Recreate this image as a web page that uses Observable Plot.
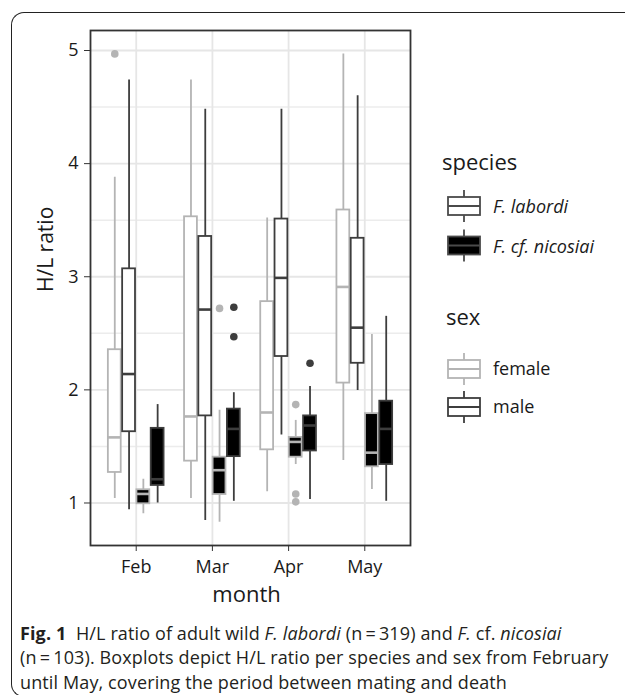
<!DOCTYPE html>
<html><head><meta charset="utf-8">
<script src="https://cdn.jsdelivr.net/npm/d3@7"></script>
<script src="https://cdn.jsdelivr.net/npm/@observablehq/plot@0.6"></script>
<style>
body{margin:0;background:#fff;font-family:"Open Sans",sans-serif;}
#wrap{position:relative;width:625px;height:695px;overflow:hidden;}
#card{position:absolute;left:11px;top:12px;width:700px;height:683px;border-left:1.5px solid #222;border-top:1.5px solid #222;border-bottom:1.5px solid #222;border-top-left-radius:13px;border-bottom-left-radius:13px;}
#chart{position:absolute;left:0;top:0;}
#legend{position:absolute;left:0;top:0;}
#caption{position:absolute;left:20px;top:621px;font-size:18px;letter-spacing:0.12px;line-height:24.3px;color:#231f20;white-space:nowrap;}
</style></head><body>
<div id="wrap"><div id="card"></div><div id="chart"></div><div id="legend"></div>
<div id="caption"><b>Fig. 1</b>&nbsp; H/L ratio of adult wild <i>F. labordi</i> (n&#8201;=&#8201;319) and <i>F.</i> cf. <i>nicosiai</i><br>(n&#8201;=&#8201;103). Boxplots depict H/L ratio per species and sex from February<br>until May, covering the period between mating and death</div>
</div>
<script>
const months = ["Feb", "Mar", "Apr", "May"];
const species = ["F. labordi", "F. cf. nicosiai"];
const sexes = ["female", "male"];
const yTicks = [1, 2, 3, 4, 5];
const yMinor = [1.5, 2.5, 3.5, 4.5];
// [lower whisker, Q1, median, Q3, upper whisker] per month (Feb..May)
const labordiFemale = [[1.04, 1.27, 1.58, 2.355, 3.88], [1.04, 1.37, 1.765, 3.53, 4.74], [1.10, 1.47, 1.80, 2.78, 3.52], [1.375, 2.06, 2.91, 3.59, 4.97]];
const labordiMale = [[0.94, 1.63, 2.14, 3.07, 4.74], [0.845, 1.77, 2.71, 3.356, 4.48], [1.60, 2.295, 2.99, 3.51, 4.48], [1.995, 2.235, 2.55, 3.34, 4.60]];
const nicosiaiFemale = [[0.905, 0.993, 1.08, 1.117, 1.21], [0.83, 1.075, 1.29, 1.405, 1.82], [1.34, 1.405, 1.54, 1.58, 1.73], [1.12, 1.32, 1.445, 1.79, 2.49]];
const nicosiaiMale = [[1.0, 1.155, 1.21, 1.66, 1.87], [1.015, 1.41, 1.655, 1.83, 1.975], [1.03, 1.46, 1.685, 1.77, 2.03], [1.015, 1.34, 1.655, 1.90, 2.65]];
// outliers per month
const labordiFemaleOut = [[4.97], [], [], []];
const labordiMaleOut = [[], [], [], []];
const nicosiaiFemaleOut = [[], [2.72], [1.87, 1.08, 1.01], []];
const nicosiaiMaleOut = [[], [2.73, 2.47], [2.235], []];

const sexColor = {female: "#b4b4b4", male: "#3d3d3d"};
const speciesFill = {"F. labordi": "#ffffff", "F. cf. nicosiai": "#000000"};

const groups = [
  {species: species[0], sex: sexes[0], stats: labordiFemale, out: labordiFemaleOut},
  {species: species[0], sex: sexes[1], stats: labordiMale, out: labordiMaleOut},
  {species: species[1], sex: sexes[0], stats: nicosiaiFemale, out: nicosiaiFemaleOut},
  {species: species[1], sex: sexes[1], stats: nicosiaiMale, out: nicosiaiMaleOut}
];
const boxes = groups.flatMap((gr, g) => months.map((m, i) => ({
  month: m, mi: i + 1, g, species: gr.species, sex: gr.sex,
  low: gr.stats[i][0], q1: gr.stats[i][1], med: gr.stats[i][2], q3: gr.stats[i][3], high: gr.stats[i][4]
})));
const outliers = groups.flatMap((gr, g) => gr.out.flatMap((vals, i) => vals.map(v => ({mi: i + 1, g, sex: gr.sex, species: gr.species, value: v}))));

const slot = 0.75 / 4, bw = slot * 0.9;
const xc = d => d.mi + (d.g - 1.5) * slot;
const stroke = d => sexColor[d.sex];
const fill = d => speciesFill[d.species];

const chart = Plot.plot({
  width: 625, height: 620,
  marginTop: 30, marginBottom: 75, marginLeft: 90, marginRight: 215,
  x: {domain: [0.4, 4.6]},
  y: {domain: [0.6243, 5.1768]},
  color: {type: "identity"},
  style: {fontFamily: "Open Sans", fontSize: "17px", color: "#1a1a1a", background: "transparent"},
  marks: [
    Plot.ruleY(yMinor, {stroke: "#ececec", strokeWidth: 1.4}),
    Plot.ruleY(yTicks, {stroke: "#e6e6e6", strokeWidth: 1.8}),
    Plot.ruleX([1, 2, 3, 4], {stroke: "#e6e6e6", strokeWidth: 1.8}),
    Plot.ruleX(boxes, {x: xc, y1: "low", y2: "high", stroke, strokeWidth: 1.8}),
    Plot.rect(boxes, {x1: d => xc(d) - bw / 2, x2: d => xc(d) + bw / 2, y1: "q1", y2: "q3", fill, stroke, strokeWidth: 1.8}),
    Plot.ruleY(boxes, {x1: d => xc(d) - bw / 2, x2: d => xc(d) + bw / 2, y: "med", stroke, strokeWidth: 2.6}),
    Plot.dot(outliers, {x: xc, y: "value", r: 3.8, fill: stroke, stroke: "none"}),
    Plot.frame({stroke: "#333", strokeWidth: 1.8}),
    Plot.axisY(yTicks, {tickSize: 6, tickPadding: 6, fontSize: 18, label: null, stroke: "#333", fill: "#1a1a1a", tickFormat: d => String(d)}),
    Plot.axisX([1, 2, 3, 4], {tickSize: 6, tickPadding: 9, fontSize: 18, label: null, stroke: "#333", fill: "#1a1a1a", tickFormat: i => months[i - 1]}),
    Plot.text(["month"], {text: d => d, frameAnchor: "bottom", lineAnchor: "bottom", dy: 56, dx: -4, fontSize: 22, fill: "#1a1a1a"}),
    Plot.text(["H/L ratio"], {text: d => d, frameAnchor: "left", rotate: -90, lineAnchor: "middle", dx: -44, dy: 4, fontSize: 21, fill: "#1a1a1a"})
  ]
});
document.getElementById("chart").appendChild(chart);

// legend
const svg = d3.select("#legend").append("svg").attr("width", 625).attr("height", 620)
  .style("font-family", "Open Sans");
function key(cy, fillC, strokeC, medC) {
  const g = svg.append("g");
  g.append("line").attr("x1", 464).attr("x2", 464).attr("y1", cy - 16).attr("y2", cy + 16).attr("stroke", strokeC).attr("stroke-width", 1.8);
  g.append("rect").attr("x", 448).attr("y", cy - 9).attr("width", 32).attr("height", 18).attr("fill", fillC).attr("stroke", strokeC).attr("stroke-width", 1.8);
  g.append("line").attr("x1", 448).attr("x2", 480).attr("y1", cy).attr("y2", cy).attr("stroke", medC).attr("stroke-width", 2);
}
svg.append("text").attr("x", 442).attr("y", 170).attr("font-size", 22).attr("fill", "#1a1a1a").text("species");
const spY = [206, 245.5];
species.forEach((s, i) => {
  key(spY[i], speciesFill[s], "#4a4a4a", "#4a4a4a");
  svg.append("text").attr("x", 493).attr("y", spY[i] + 7).attr("font-size", 18).attr("font-style", "italic").attr("fill", "#1a1a1a").text(s);
});
svg.append("text").attr("x", 446).attr("y", 325).attr("font-size", 22).attr("fill", "#1a1a1a").text("sex");
const sxY = [369, 407];
sexes.forEach((s, i) => {
  key(sxY[i], "#ffffff", sexColor[s], sexColor[s]);
  svg.append("text").attr("x", 493).attr("y", sxY[i] + 6).attr("font-size", 18).attr("fill", "#1a1a1a").text(s);
});
</script>
</body></html>
